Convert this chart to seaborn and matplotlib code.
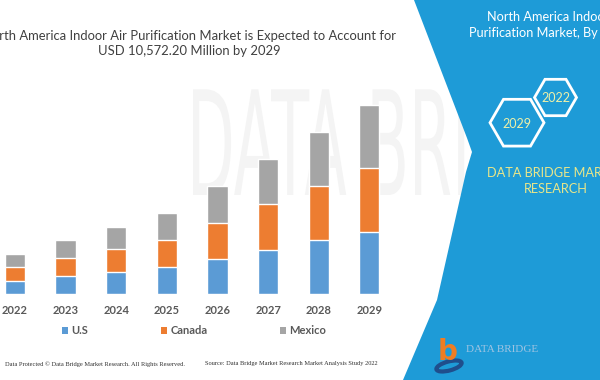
import numpy as np
import pandas as pd
import matplotlib
matplotlib.use('Agg')
import matplotlib.pyplot as plt
import seaborn as sns
from matplotlib.patches import Polygon, RegularPolygon, Patch, PathPatch, Ellipse
from matplotlib.textpath import TextPath
from matplotlib.font_manager import FontProperties
from matplotlib.transforms import Affine2D

# data (USD million)
years = ['2022', '2023', '2024', '2025', '2026', '2027', '2028', '2029']
us = [727, 1007, 1231, 1494, 1975, 2478, 3004, 3485]
canada = [800, 1024, 1303, 1527, 2014, 2573, 3038, 3580]
mexico = [694, 973, 1231, 1510, 2031, 2478, 3021, 3507.2]
series = ['U.S', 'Canada', 'Mexico']
colors = ['#5b9bd5', '#ed7d31', '#a5a5a5']

df = pd.DataFrame({'year': years, 'U.S': us, 'Canada': canada, 'Mexico': mexico})
df['us_can'] = df['U.S'] + df['Canada']
df['total'] = df['us_can'] + df['Mexico']

sns.set_theme(style='white')
plt.rcParams['font.family'] = ['Lato', 'DejaVu Sans']

fig = plt.figure(figsize=(6, 3.8), dpi=100)

# background layer in pixel coords (y down)
bg = fig.add_axes([0, 0, 1, 1], zorder=-1)
bg.set_xlim(0, 600)
bg.set_ylim(380, 0)
bg.axis('off')

# faint watermark
wm = TextPath((0, 0), 'DATA BRI', size=100, prop=FontProperties(family='DejaVu Sans'))
tr = Affine2D().scale(0.62, -1.45).translate(187, 195) + bg.transData
bg.add_patch(PathPatch(wm, transform=tr, facecolor='#f4f4f4', edgecolor='none'))

# blue panel
blue = '#1e9bd7'
bg.add_patch(Polygon([(414, 0), (600, 0), (600, 380), (403, 380), (437, 300),
                      (466, 172), (472, 152), (467, 138)],
                     closed=True, facecolor=blue, edgecolor='none'))

# right panel texts run past the edge, as in the original crop
bg.text(558, 17, 'North America Indoor Air', color='white', fontsize=9.2,
        ha='center', va='center')
bg.text(558, 33, 'Purification Market, By Country', color='white', fontsize=9.2,
        ha='center', va='center')

for cx, cy, r, lab in [(555.5, 97.5, 21, '2022'), (517, 122.7, 27, '2029')]:
    bg.add_patch(RegularPolygon((cx, cy), 6, radius=r, orientation=np.pi / 6,
                                facecolor='none', edgecolor='white', lw=2))
    bg.text(cx, cy + 1, lab, color='#eef0a8', fontsize=9, ha='center', va='center')

bg.text(556, 173, 'DATA BRIDGE MARKET', color='#e8e68a', fontsize=9.2,
        ha='center', va='center')
bg.text(556, 189, 'RESEARCH', color='#e8e68a', fontsize=9.2,
        ha='center', va='center')

# bottom logo
bg.text(448, 352, 'b', color='#f07d22', fontsize=20, fontweight='bold',
        ha='center', va='center', family='DejaVu Sans')
bg.add_patch(Ellipse((449, 366), 26, 9, angle=-15,
                     facecolor='none', edgecolor='#1f4e8c', lw=3))
bg.text(466, 349, 'DATA BRIDGE', color='#9fc4e2', fontsize=8,
        ha='left', va='center', family='Liberation Serif')

# title
bg.text(189, 36, 'North America Indoor Air Purification Market is Expected to Account for',
        color='#404040', fontsize=9.35, ha='center', va='center')
bg.text(189, 50.7, 'USD 10,572.20 Million by 2029', color='#404040', fontsize=9.35,
        ha='center', va='center')

# footer
bg.text(185, 364, 'Data Protected \u00a9 Data Bridge Market Research. All Rights Reserved.',
        color='#303030', fontsize=4.6, ha='right', va='center', family='Liberation Serif')
bg.text(205, 364, 'Source: Data Bridge Market Research Market Analysis Study 2022',
        color='#303030', fontsize=4.6, ha='left', va='center', family='Liberation Serif')

# chart
ax = fig.add_axes([0, 86 / 380, 394.6 / 600, 199 / 380])
ax.patch.set_alpha(0)
sns.barplot(data=df, x='year', y='total', color=colors[2], width=0.4,
            saturation=1, ax=ax)
sns.barplot(data=df, x='year', y='us_can', color=colors[1], width=0.4,
            saturation=1, ax=ax)
sns.barplot(data=df, x='year', y='U.S', color=colors[0], width=0.4,
            saturation=1, ax=ax)
ax.set_xlim(-0.296, 7.5)
ax.set_ylim(0, 11132)
ax.set_yticks([])
ax.set_xlabel('')
ax.set_ylabel('')
sns.despine(ax=ax, left=True, bottom=True)
ax.tick_params(axis='x', length=0, pad=8, labelsize=8, labelcolor='#595959')
for t in ax.get_xticklabels():
    t.set_fontweight('bold')

handles = [Patch(facecolor=c, edgecolor='none') for c in colors]
fig.legend(handles, series, loc='center', bbox_to_anchor=(194 / 600, 1 - 330.7 / 380),
           ncol=3, frameon=False, handlelength=0.55, handleheight=0.55,
           handletextpad=0.3, columnspacing=6.5, labelcolor='#595959',
           prop={'family': ['Lato', 'DejaVu Sans'], 'weight': 'bold', 'size': 8})

fig.savefig('out.png', dpi=100)
